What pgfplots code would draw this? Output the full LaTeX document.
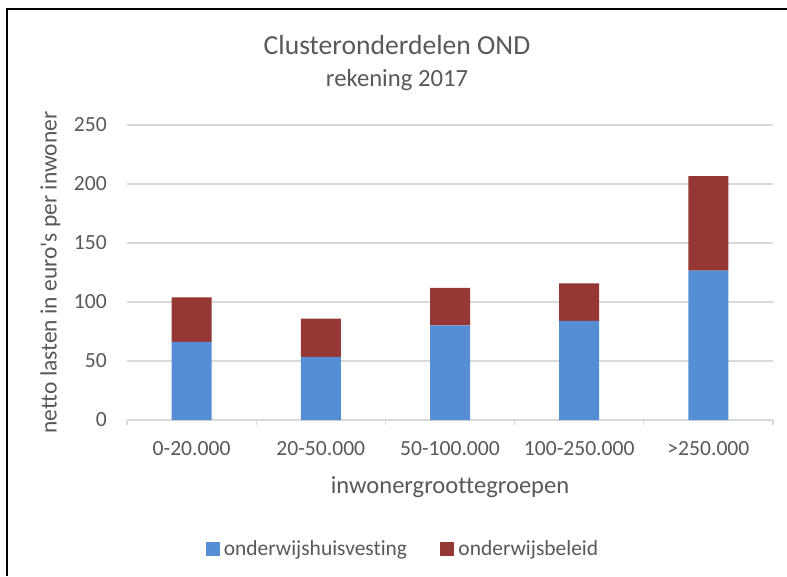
\documentclass[border=0pt]{standalone}
\usepackage{fontspec}
\setmainfont{Carlito}[Ligatures=NoCommon]
\usepackage{pgfplots}
\pgfplotsset{compat=1.18}
\definecolor{txt}{HTML}{595959}
\definecolor{grd}{HTML}{D9D9D9}
\definecolor{cblue}{HTML}{558ED5}
\definecolor{cred}{HTML}{953735}
\begin{document}
\begin{tikzpicture}
\useasboundingbox (0,0) rectangle (590.25pt,432pt);
\fill[white] (0,0) rectangle (590.25pt,432pt);
\draw[black, line width=1.6pt] (5.25pt,0) -- (5.25pt,425.25pt) -- (590.25pt,425.25pt);
\node[anchor=base, text=txt, font=\fontsize{20.7pt}{24pt}\selectfont] at (297.75pt,390.75pt) {Clusteronderdelen OND};
\node[anchor=base, text=txt, font=\fontsize{18.5pt}{22pt}\selectfont] at (297.75pt,366.75pt) {rekening 2017};
\begin{axis}[
  at={(95.25pt,117pt)}, anchor=south west,
  scale only axis, width=484.5pt, height=221.25pt,
  ybar stacked, bar width=30pt,
  xmin=-0.5, xmax=4.5, ymin=0, ymax=250,
  axis x line*=bottom, axis y line*=left,
  x axis line style={grd, line width=0.9pt},
  y axis line style={draw=none},
  xtick={0,1,2,3,4},
  xticklabels={0-20.000,20-50.000,50-100.000,100-250.000,>250.000},
  major x tick style={draw=none},
  extra x ticks={-0.5,0.5,1.5,2.5,3.5,4.5},
  extra x tick labels={},
  extra x tick style={tick align=outside, major tick length=3.75pt, major x tick style={draw=grd, line width=0.9pt}},
  ytick={0,50,100,150,200,250},
  ymajorgrids, major grid style={grd, line width=0.9pt},
  major y tick style={draw=none},
  /pgf/number format/assume math mode=true,
  xticklabel style={anchor=base, yshift=-26.25pt, text=txt, font=\fontsize{16.2pt}{19pt}\selectfont},
  yticklabel style={anchor=east, inner sep=0pt, xshift=-15pt, text=txt, font=\fontsize{16.2pt}{19pt}\selectfont},
  xlabel={inwonergroottegroepen},
  xlabel style={at={(axis description cs:0.5,-0.2508)}, anchor=base, text=txt, font=\fontsize{18.4pt}{22pt}\selectfont},
  ylabel={netto lasten in euro\textquotesingle s per inwoner},
  ylabel style={at={(axis description cs:-0.1088,0.5)}, rotate=0, anchor=base, text=txt, font=\fontsize{17.6pt}{21pt}\selectfont},
  legend columns=2,
  legend image code/.code={\fill[#1] (0pt,-5.25pt) rectangle (10.5pt,5.25pt);},
  legend style={at={(0.4257,-0.437)}, anchor=center, draw=none, fill=none,
    font=\fontsize{16.1pt}{19pt}\selectfont, text=txt,
    nodes={inner sep=0pt},
    /tikz/every odd column/.append style={column sep=3pt},
    /tikz/every even column/.append style={column sep=25pt}},
]
\addplot[fill=cblue, draw=none] coordinates {(0,66.3) (1,53.4) (2,80.1) (3,84.1) (4,126.5)};
\addplot[fill=cred, draw=none] coordinates {(0,37.7) (1,32.6) (2,31.8) (3,31.7) (4,80.1)};
\legend{onderwijshuisvesting, onderwijsbeleid}
\end{axis}
\end{tikzpicture}
\end{document}
